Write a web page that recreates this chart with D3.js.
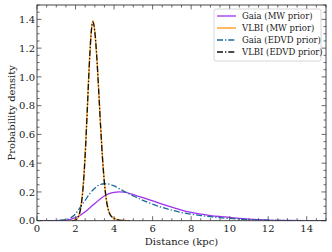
<!DOCTYPE html>
<html>
<head>
	<meta charset="utf-8">
	<title>Distance probability density</title>
	<style>
	body{margin:0;background:#fff;}
	svg{display:block;font-family:"DejaVu Serif",serif;}
	.tickLabel{font-size:10px;fill:#222;}
	.axisTitle{font-size:10px;fill:#222;}
	.legendText{font-size:8.5px;fill:#222;}
	</style>
	<script src="https://d3js.org/d3.v7.min.js"></script>
</head>
<body>
<svg id="chart" width="332" height="252"></svg>
<script>
// Gaia distance grid (kpc)
var gaiaDist = [0,0.5,1.0,1.25,1.5,1.75,2.0,2.25,2.5,2.75,3.0,3.25,3.5,3.75,4.0,4.25,4.5,4.75,5.0,5.5,6.0,6.5,7.0,7.5,8.0,8.5,9.0,9.5,10.0,10.5,11.0,11.5,12.0,13.0,14.0,15.0];
var gaiaMW   = [0,0,0.0005,0.0015,0.004,0.01,0.021,0.038,0.062,0.09,0.12,0.148,0.172,0.188,0.197,0.2,0.198,0.192,0.181,0.16,0.138,0.115,0.094,0.074,0.058,0.045,0.036,0.029,0.023,0.016,0.011,0.007,0.004,0.002,0.001,0.0005];
var gaiaEDVD = [0,0,0.001,0.003,0.008,0.02,0.047,0.095,0.142,0.19,0.226,0.25,0.257,0.254,0.242,0.225,0.206,0.189,0.172,0.142,0.115,0.092,0.073,0.057,0.045,0.036,0.028,0.021,0.016,0.011,0.007,0.005,0.003,0.001,0.0005,0];

// VLBI distance grid (kpc)
var vlbiDist = [1.8,1.9,2.0,2.1,2.2,2.3,2.4,2.5,2.6,2.7,2.8,2.9,3.0,3.1,3.2,3.3,3.4,3.5,3.6,3.7,3.8,3.9,4.0,4.1,4.2,4.3,4.4,4.6,4.8];
var vlbiMW   = [0,0.001,0.005,0.017,0.048,0.117,0.248,0.461,0.744,1.049,1.289,1.39,1.318,1.148,0.913,0.662,0.438,0.264,0.146,0.078,0.042,0.026,0.017,0.011,0.007,0.004,0.002,0.001,0];
var vlbiEDVD = [0,0.001,0.005,0.016,0.046,0.114,0.244,0.456,0.738,1.043,1.284,1.383,1.314,1.144,0.909,0.658,0.434,0.261,0.144,0.076,0.041,0.025,0.016,0.01,0.006,0.003,0.002,0.001,0];

var seriesNames = ["Gaia (MW prior)","VLBI (MW prior)","Gaia (EDVD prior)","VLBI (EDVD prior)"];
var xTicks = [0,2,4,6,8,10,12,14];
var yTicks = [0.0,0.2,0.4,0.6,0.8,1.0,1.2,1.4];

var mLeft = 37, mTop = 5, mRight = 326, mBottom = 220.7;

var svg = d3.select("#chart");

var x = d3.scaleLinear().domain([0,15]).range([mLeft,mRight]);
var y = d3.scaleLinear().domain([0,1.5]).range([mBottom,mTop]);

//曲線のスタイル
var series = [
	{name:seriesNames[0], xs:gaiaDist, ys:gaiaMW,   color:"#a030f0", dash:null,        w:1.3},
	{name:seriesNames[1], xs:vlbiDist, ys:vlbiMW,   color:"#ffa530", dash:null,        w:1.5},
	{name:seriesNames[2], xs:gaiaDist, ys:gaiaEDVD, color:"#1b6a9a", dash:"6,2,1.3,2", w:1.3},
	{name:seriesNames[3], xs:vlbiDist, ys:vlbiEDVD, color:"#111111", dash:"6,2,1.3,2", w:1.3}
];

var line = d3.line()
	.x(function(d){ return x(d[0]); })
	.y(function(d){ return y(d[1]); })
	.curve(d3.curveMonotoneX);

svg.append("clipPath").attr("id","clip")
	.append("rect").attr("x",mLeft).attr("y",mTop).attr("width",mRight-mLeft).attr("height",mBottom-mTop);

var plot = svg.append("g").attr("clip-path","url(#clip)");
series.forEach(function(s){
	plot.append("path")
		.datum(d3.zip(s.xs, s.ys))
		.attr("d", line)
		.attr("fill","none")
		.attr("stroke", s.color)
		.attr("stroke-width", s.w)
		.attr("stroke-dasharray", s.dash);
});

//目盛り（内向き、四辺）
var minorX = d3.range(0,15.01,0.5);
var minorY = d3.range(0,1.501,0.05);
var tickColor = "#444";

function drawTicks(){
	var g = svg.append("g").attr("stroke",tickColor).attr("stroke-width",0.8);
	minorX.forEach(function(v){
		var major = xTicks.indexOf(v) >= 0;
		var len = major ? 4.5 : 2.5;
		g.append("line").attr("x1",x(v)).attr("x2",x(v)).attr("y1",mBottom).attr("y2",mBottom-len);
		g.append("line").attr("x1",x(v)).attr("x2",x(v)).attr("y1",mTop).attr("y2",mTop+len);
	});
	minorY.forEach(function(v){
		var major = yTicks.some(function(t){ return Math.abs(t-v) < 1e-6; });
		var len = major ? 4.5 : 2.5;
		g.append("line").attr("x1",mLeft).attr("x2",mLeft+len).attr("y1",y(v)).attr("y2",y(v));
		g.append("line").attr("x1",mRight).attr("x2",mRight-len).attr("y1",y(v)).attr("y2",y(v));
	});
}
drawTicks();

//枠
svg.append("rect")
	.attr("x",mLeft).attr("y",mTop)
	.attr("width",mRight-mLeft).attr("height",mBottom-mTop)
	.attr("fill","none").attr("stroke","#333").attr("stroke-width",0.9);

//目盛りラベル
svg.selectAll(".xLab").data(xTicks).enter()
	.append("text").attr("class","tickLabel")
	.attr("x",function(d){ return x(d); })
	.attr("y",mBottom+11.5)
	.attr("text-anchor","middle")
	.text(function(d){ return d; });

svg.selectAll(".yLab").data(yTicks).enter()
	.append("text").attr("class","tickLabel")
	.attr("x",mLeft-2)
	.attr("y",function(d){ return y(d)+3.6; })
	.attr("text-anchor","end")
	.text(function(d){ return d.toFixed(1); });

svg.append("text").attr("class","axisTitle")
	.attr("x",(mLeft+mRight)/2).attr("y",245)
	.attr("text-anchor","middle")
	.text("Distance (kpc)");

svg.append("text").attr("class","axisTitle")
	.attr("transform","translate(15," + ((mTop+mBottom)/2) + ") rotate(-90)")
	.attr("text-anchor","middle")
	.text("Probability density");

//凡例
var lg = svg.append("g");
lg.append("rect")
	.attr("x",214).attr("y",9).attr("width",107).attr("height",52)
	.attr("rx",2).attr("fill","#fff").attr("fill-opacity",0.85)
	.attr("stroke","#ccc").attr("stroke-width",0.8);

series.forEach(function(s,i){
	var yy = 16 + i*12;
	lg.append("line")
		.attr("x1",217).attr("x2",236).attr("y1",yy).attr("y2",yy)
		.attr("stroke",s.color).attr("stroke-width",s.w)
		.attr("stroke-dasharray",s.dash);
	lg.append("text").attr("class","legendText")
		.attr("x",242).attr("y",yy+3)
		.text(s.name);
});
</script>
</body>
</html>
